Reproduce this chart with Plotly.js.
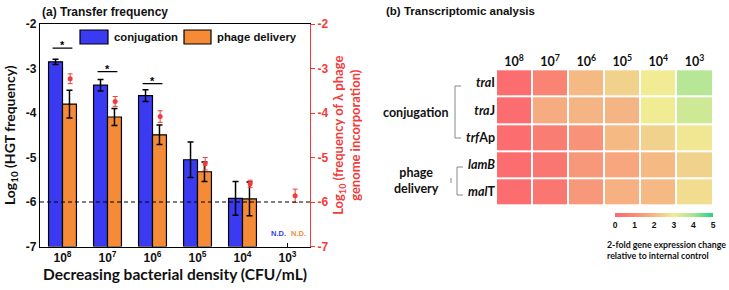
<!DOCTYPE html>
<html>
<head>
<meta charset="utf-8">
<script src="https://cdn.plot.ly/plotly-3.0.1.min.js"></script>
<style>html,body{margin:0;padding:0;background:#fff;}#chart{width:729px;height:290px;}</style>
</head>
<body>
<div id="chart"></div>
<script>
// ---------- Data: panel (a) ----------
const densities = ['10<sup>8</sup>', '10<sup>7</sup>', '10<sup>6</sup>', '10<sup>5</sup>', '10<sup>4</sup>', '10<sup>3</sup>'];
const seriesNames = ['conjugation', 'phage delivery'];
const conjugation = [-2.85, -3.375, -3.61, -5.05, -5.92, null];
const conjugationErr = [0.06, 0.13, 0.13, 0.40, 0.38, null];
const phageDelivery = [-3.80, -4.09, -4.49, -5.32, -5.93, null];
const phageDeliveryErr = [0.31, 0.19, 0.22, 0.22, 0.38, null];
const lambdaIncorporation = [-3.23, -3.74, -4.08, -5.14, -5.59, -5.86];
const lambdaIncorporationErr = [0.11, 0.11, 0.13, 0.14, 0.08, 0.15];
const significantGroups = [0, 1, 2];
const significanceLevel = [-2.54, -3.07, -3.34];
const axisFloor = -7;
const axisTop = -2;
const detectionLimit = -6;
const yTicks = [-7, -6, -5, -4, -3, -2];
const yTickText = ['-7', '-6', '-5', '-4', '-3', '-2'];

// ---------- Data: panel (b) ----------
const genes = ['<i>tra</i>I', '<i>tra</i>J', '<i>trf</i>Ap', '<i>lamB</i>', '<i>mal</i>T'];
const expr_traI  = [0.1, 0.8, 2.0, 2.5, 3.0, 3.8];
const expr_traJ  = [0.1, 1.7, 1.9, 1.9, 3.0, 3.5];
const expr_trfAp = [0.1, 0.6, 1.2, 2.0, 2.5, 2.9];
const expr_lamB  = [0.1, 0.4, 1.3, 1.6, 2.0, 2.5];
const expr_malT  = [0.1, 0.4, 1.3, 1.8, 2.0, 2.7];
const colorbarTicks = [0, 1, 2, 3, 4, 5];

// ---------- Styles ----------
const W = 729, H = 290;
const px = x => x / W;
const py = y => 1 - y / H;
const BLUE = '#3a3af2', ORANGE = '#f68b37', RED = '#f23c3c';
const ARIAL = 'Liberation Sans, Arial, sans-serif';
const CAL = 'Lato, Open Sans, sans-serif';
const idx = densities.map((_, i) => i);

const traces = [
  {
    type: 'bar', name: seriesNames[0], x: idx,
    y: conjugation.map(v => v == null ? null : v - axisFloor), base: axisFloor,
    marker: {color: BLUE, line: {color: '#000', width: 1.2}},
    error_y: {type: 'data', array: conjugationErr, visible: true, color: '#000', thickness: 1.5, width: 3},
    xaxis: 'x', yaxis: 'y'
  },
  {
    type: 'bar', name: seriesNames[1], x: idx,
    y: phageDelivery.map(v => v == null ? null : v - axisFloor), base: axisFloor,
    marker: {color: ORANGE, line: {color: '#000', width: 1.2}},
    error_y: {type: 'data', array: phageDeliveryErr, visible: true, color: '#000', thickness: 1.5, width: 3},
    xaxis: 'x', yaxis: 'y'
  },
  {
    type: 'scatter', mode: 'markers', name: 'λ incorporation',
    x: idx.map(i => i + 0.17), y: lambdaIncorporation,
    marker: {color: RED, size: 5},
    error_y: {type: 'data', array: lambdaIncorporationErr, visible: true, color: RED, thickness: 1, width: 2.5},
    xaxis: 'x', yaxis: 'y2'
  },
  {
    type: 'heatmap', x: idx, y: genes.map((_, i) => i),
    z: [expr_traI, expr_traJ, expr_trfAp, expr_lamB, expr_malT],
    zmin: 0, zmax: 5, xgap: 2, ygap: 2, showscale: true,
    colorscale: [[0, '#fb6a6e'], [0.2, '#f98a76'], [0.4, '#f5b984'], [0.5, '#f1d28d'], [0.6, '#f1ec94'], [0.8, '#a8e596'], [1, '#22d184']],
    colorbar: {
      orientation: 'h', x: px(664), xanchor: 'center', y: py(220), yanchor: 'middle',
      len: 98, lenmode: 'pixels', thickness: 4, thicknessmode: 'pixels',
      outlinewidth: 0, ticks: '', tickvals: colorbarTicks, ticktext: colorbarTicks.map(String),
      tickfont: {family: ARIAL, size: 8.5, color: '#111', weight: 'bold'}, xpad: 0, ypad: 0
    },
    xaxis: 'x3', yaxis: 'y3'
  }
];

const annotations = [
  {text: '(a) Transfer frequency', xref: 'paper', yref: 'paper', x: px(40), y: py(3), xanchor: 'left', yanchor: 'top', showarrow: false, font: {family: ARIAL, size: 12, color: '#111', weight: 'bold'}},
  {text: '(b) Transcriptomic analysis', xref: 'paper', yref: 'paper', x: px(384), y: py(3), xanchor: 'left', yanchor: 'top', showarrow: false, font: {family: ARIAL, size: 11.5, color: '#111', weight: 'bold'}},
  {text: 'N.D.', xref: 'x', yref: 'y', x: 5 - 0.21, y: -6.7, showarrow: false, font: {family: ARIAL, size: 7.5, color: BLUE, weight: 'bold'}},
  {text: 'N.D.', xref: 'x', yref: 'y', x: 5 + 0.25, y: -6.7, showarrow: false, font: {family: ARIAL, size: 7.5, color: ORANGE, weight: 'bold'}},
  {text: 'conjugation', xref: 'paper', yref: 'paper', x: px(416), y: py(112), showarrow: false, font: {family: CAL, size: 12.5, color: '#111', weight: 'bold'}},
  {text: 'phage<br>delivery', xref: 'paper', yref: 'paper', x: px(416), y: py(180), showarrow: false, font: {family: CAL, size: 12.5, color: '#111', weight: 'bold'}},
  {text: '2-fold gene expression change<br>relative to internal control', xref: 'paper', yref: 'paper', x: px(605), y: py(237), xanchor: 'left', yanchor: 'top', align: 'left', showarrow: false, font: {family: CAL, size: 8.8, color: '#111', weight: 'bold'}},
  // legend labels
  {text: seriesNames[0], xref: 'paper', yref: 'paper', x: px(112), y: py(37), xanchor: 'left', yanchor: 'middle', showarrow: false, font: {family: ARIAL, size: 11.3, color: '#111', weight: 'bold'}},
  {text: seriesNames[1], xref: 'paper', yref: 'paper', x: px(215), y: py(37), xanchor: 'left', yanchor: 'middle', showarrow: false, font: {family: ARIAL, size: 11.3, color: '#111', weight: 'bold'}}
];
const shapes = [
  {type: 'line', xref: 'x domain', yref: 'y', x0: 0, x1: 1, y0: detectionLimit, y1: detectionLimit, line: {color: '#000', width: 1.2, dash: '4px,3px'}},
  {type: 'path', xref: 'paper', yref: 'paper', path: `M ${px(461)} ${py(86)} L ${px(455)} ${py(86)} L ${px(455)} ${py(138)} L ${px(461)} ${py(138)}`, line: {color: '#888', width: 1}},
  {type: 'path', xref: 'paper', yref: 'paper', path: `M ${px(463)} ${py(167)} L ${px(457)} ${py(167)} L ${px(457)} ${py(195)} L ${px(463)} ${py(195)}`, line: {color: '#888', width: 1}},
  {type: 'line', xref: 'paper', yref: 'paper', x0: px(451), x1: px(451), y0: py(178), y1: py(183), line: {color: '#888', width: 1}},
  // legend swatches
  {type: 'rect', xref: 'paper', yref: 'paper', x0: px(80), x1: px(108), y0: py(44), y1: py(30), fillcolor: BLUE, line: {color: '#000', width: 1.2}},
  {type: 'rect', xref: 'paper', yref: 'paper', x0: px(184), x1: px(211), y0: py(44), y1: py(30), fillcolor: ORANGE, line: {color: '#000', width: 1.2}}
];
significantGroups.forEach((g, k) => {
  shapes.push({type: 'line', xref: 'x', yref: 'y', x0: g - 0.22, x1: g + 0.22, y0: significanceLevel[k], y1: significanceLevel[k], line: {color: '#000', width: 1.2}});
  annotations.push({text: '*', xref: 'x', yref: 'y', x: g, y: significanceLevel[k], yanchor: 'bottom', yshift: -5, showarrow: false, font: {family: ARIAL, size: 11, color: '#000', weight: 'bold'}});
});

const layout = {
  width: W, height: H, margin: {l: 0, r: 0, t: 0, b: 0},
  paper_bgcolor: '#fff', plot_bgcolor: 'rgba(0,0,0,0)',
  showlegend: false, barmode: 'group', bargap: 0.38, bargroupgap: 0,
  xaxis: {domain: [px(40), px(310)], range: [-0.5, 5.5], tickvals: idx, ticktext: densities,
          showline: true, linecolor: '#000', linewidth: 1.2, mirror: true, ticks: 'inside', ticklen: 4, tickcolor: '#000',
          showgrid: false, zeroline: false, tickfont: {family: ARIAL, size: 12, color: '#111', weight: 'bold'},
          title: {text: 'Decreasing bacterial density (CFU/mL)', font: {family: CAL, size: 15.5, color: '#111', weight: 'bold'}, standoff: 5},
          anchor: 'y'},
  yaxis: {domain: [py(246.5), py(24)], range: [axisFloor, axisTop], tickvals: yTicks, ticktext: yTickText,
          showline: true, linecolor: '#000', linewidth: 1.2, ticks: '', showgrid: false, zeroline: false,
          tickfont: {family: ARIAL, size: 12, color: '#111', weight: 'bold'},
          title: {text: 'Log<sub>10</sub> (HGT frequency)', font: {family: CAL, size: 14, color: '#111', weight: 'bold'}, standoff: 6},
          anchor: 'x'},
  yaxis2: {overlaying: 'y', side: 'right', range: [axisFloor, axisTop], tickvals: yTicks, ticktext: yTickText,
           showline: true, linecolor: RED, linewidth: 1.2, ticks: 'outside', ticklen: 4, tickcolor: RED,
           showgrid: false, zeroline: false, tickfont: {family: ARIAL, size: 12, color: RED, weight: 'bold'},
           title: {text: 'Log<sub>10</sub> (frequency of λ phage<br>genome incorporation)', font: {family: CAL, size: 13, color: RED, weight: 'bold'}, standoff: 6},
           anchor: 'x'},
  xaxis3: {domain: [px(496), px(712.5)], range: [-0.5, 5.5], side: 'top', tickvals: idx, ticktext: densities,
           showgrid: false, zeroline: false, showline: false, ticks: '', anchor: 'y3',
           tickfont: {family: CAL, size: 12.5, color: '#111', weight: 'bold'}},
  yaxis3: {domain: [py(205.7), py(69.3)], range: [4.5, -0.5], tickvals: genes.map((_, i) => i), ticktext: genes,
           showgrid: false, zeroline: false, showline: false, ticks: '', anchor: 'x3',
           tickfont: {family: CAL, size: 12.5, color: '#111', weight: 'bold'}},
  annotations: annotations,
  shapes: shapes
};

Plotly.newPlot('chart', traces, layout, {displayModeBar: false, staticPlot: true});
</script>
</body>
</html>
